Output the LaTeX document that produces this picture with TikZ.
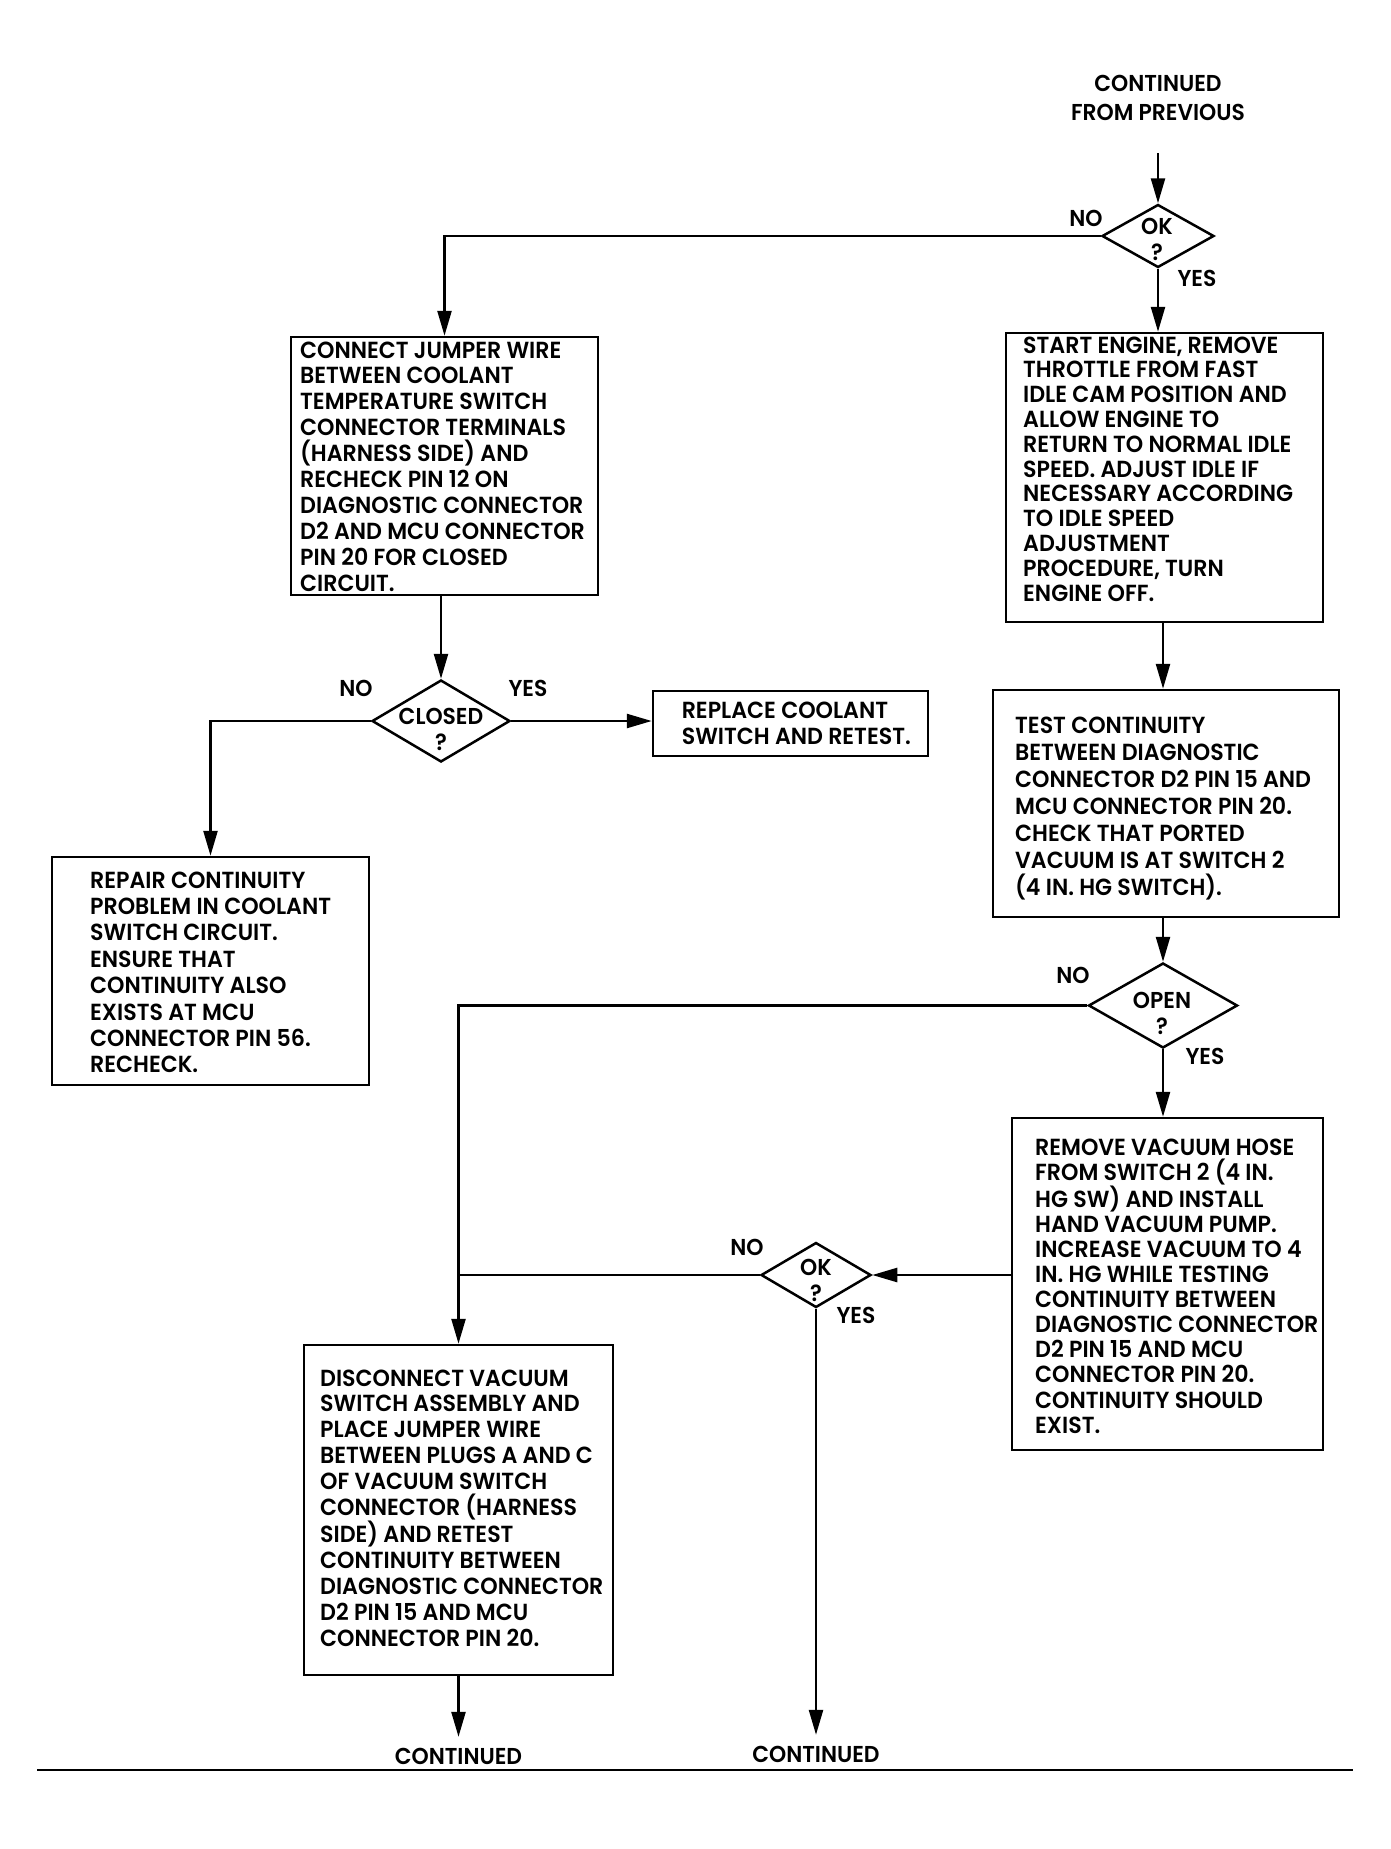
\documentclass[tikz,border=0pt]{standalone}
\usepackage{fontspec}
\setmainfont{Poppins}[UprightFont={* SemiBold},FakeStretch=0.95]
\usetikzlibrary{arrows.meta,shapes.geometric}
\newcommand\boxlines[1]{\parbox[t]{600pt}{\raggedright #1}}
\begin{document}
\begin{tikzpicture}[x=1pt,y=-1pt,
  line/.style={line width=2.5pt},
  arr/.style={line width=2.5pt,-{Triangle[length=25pt,width=14pt]}},
  box/.style={draw,line width=2.5pt,rectangle,inner sep=0pt},
  dia/.style={draw,line width=2.5pt,diamond,inner sep=0pt},
  btxt/.style={anchor=base west,inner sep=0pt,font=\fontsize{23.3pt}{#1}\selectfont},
  lbl/.style={inner sep=0pt,text height=16pt,text depth=0pt,font=\fontsize{23pt}{26pt}\selectfont},
  dtxt/.style={inner sep=0pt,align=center,font=\fontsize{23pt}{26pt}\selectfont}]
\useasboundingbox[fill=white] (0,0) rectangle (1391,1849);

% boxes
\node[box,minimum width=307pt,minimum height=258pt] (l1) at (444.5,466) {};
\node[box,minimum width=317pt,minimum height=289pt] (r1) at (1164.5,477.5) {};
\node[box,minimum width=275pt,minimum height=65pt] (rep) at (790.5,723.5) {};
\node[box,minimum width=317pt,minimum height=228pt] (rpr) at (210.5,971) {};
\node[box,minimum width=346pt,minimum height=227pt] (r2) at (1166,803.5) {};
\node[box,minimum width=311pt,minimum height=332pt] (r3) at (1167.5,1284) {};
\node[box,minimum width=309pt,minimum height=330pt] (d) at (458.5,1510) {};

% diamonds
\node[dia,minimum width=112pt,minimum height=63pt] (ok1) at (1158,236) {};
\node[dia,minimum width=138pt,minimum height=82pt] (cl) at (441,721) {};
\node[dia,minimum width=149pt,minimum height=85pt] (op) at (1163,1005.5) {};
\node[dia,minimum width=110pt,minimum height=65pt] (ok2) at (816,1275) {};

% box texts
\node[btxt=25.9pt] (tl1) at (300,358) {\boxlines{CONNECT JUMPER WIRE\\BETWEEN COOLANT\\TEMPERATURE SWITCH\\CONNECTOR TERMINALS\\(HARNESS SIDE) AND\\RECHECK PIN 12 ON\\DIAGNOSTIC CONNECTOR\\D2 AND MCU CONNECTOR\\PIN 20 FOR CLOSED\\CIRCUIT.}};
\node[btxt=24.8pt] (tr1) at (1023,353) {\boxlines{START ENGINE, REMOVE\\THROTTLE FROM FAST\\IDLE CAM POSITION AND\\ALLOW ENGINE TO\\RETURN TO NORMAL IDLE\\SPEED. ADJUST IDLE IF\\NECESSARY ACCORDING\\TO IDLE SPEED\\ADJUSTMENT\\PROCEDURE, TURN\\ENGINE OFF.}};
\node[btxt=26pt] (trep) at (681.6,718) {\boxlines{REPLACE COOLANT\\SWITCH AND RETEST.}};
\node[btxt=26.4pt] (trpr) at (90,888) {\boxlines{REPAIR CONTINUITY\\PROBLEM IN COOLANT\\SWITCH CIRCUIT.\\ENSURE THAT\\CONTINUITY ALSO\\EXISTS AT MCU\\CONNECTOR PIN 56.\\RECHECK.}};
\node[btxt=27pt] (tr2) at (1015,733) {\boxlines{TEST CONTINUITY\\BETWEEN DIAGNOSTIC\\CONNECTOR D2 PIN 15 AND\\MCU CONNECTOR PIN 20.\\CHECK THAT PORTED\\VACUUM IS AT SWITCH 2\\(4 IN. HG SWITCH).}};
\node[btxt=25.1pt] (tr3) at (1035,1155) {\boxlines{REMOVE VACUUM HOSE\\FROM SWITCH 2 (4 IN.\\HG SW) AND INSTALL\\HAND VACUUM PUMP.\\INCREASE VACUUM TO 4\\IN. HG WHILE TESTING\\CONTINUITY BETWEEN\\DIAGNOSTIC CONNECTOR\\D2 PIN 15 AND MCU\\CONNECTOR PIN 20.\\CONTINUITY SHOULD\\EXIST.}};
\node[btxt=25.9pt] (td) at (320,1386) {\boxlines{DISCONNECT VACUUM\\SWITCH ASSEMBLY AND\\PLACE JUMPER WIRE\\BETWEEN PLUGS A AND C\\OF VACUUM SWITCH\\CONNECTOR (HARNESS\\SIDE) AND RETEST\\CONTINUITY BETWEEN\\DIAGNOSTIC CONNECTOR\\D2 PIN 15 AND MCU\\CONNECTOR PIN 20.}};

% diamond texts
\node[dtxt] (tok1) at (1157,239.5) {OK\\?};
\node[dtxt] (tcl) at (441,729) {CLOSED\\?};
\node[dtxt] (top) at (1162,1013.5) {OPEN\\?};
\node[dtxt] (tok2) at (816,1280.5) {OK\\?};

% labels
\node[dtxt,font=\fontsize{23pt}{29pt}\selectfont] (start) at (1158,97.5) {CONTINUED\\FROM PREVIOUS};
\node[lbl] (no1) at (1086,218) {NO};
\node[lbl] (yes1) at (1197,278) {YES};
\node[lbl] (no2) at (356,688) {NO};
\node[lbl] (yes2) at (528,688) {YES};
\node[lbl] (no3) at (1073,975) {NO};
\node[lbl] (yes3) at (1205,1056) {YES};
\node[lbl] (no4) at (747,1247) {NO};
\node[lbl] (yes4) at (856,1315) {YES};
\node[lbl] (c1) at (458.5,1756) {CONTINUED};
\node[lbl] (c2) at (816,1754) {CONTINUED};

% connectors
\coordinate (s0) at (1158,153);
\draw[arr] (s0) -- (ok1.north);
\draw[arr] (ok1.west) -| (l1.north);
\draw[arr] (ok1.south) -- (ok1.south |- r1.north);
\draw[arr] (l1.south -| cl.north) -- (cl.north);
\draw[arr] (cl.east) -- (cl.east -| rep.west);
\draw[arr] (cl.west) -| (rpr.north);
\draw[arr] (op.north |- r1.south) -- (op.north |- r2.north);
\draw[arr] (op.north |- r2.south) -- (op.north);
\draw[arr] (op.south) -- (op.south |- r3.north);
\draw[arr] (op.west) -| (d.north);
\draw[line] (ok2.west) -- (ok2.west -| d.north);
\draw[arr] (r3.west |- ok2.east) -- (ok2.east);
\draw[arr,shorten >=11pt] (ok2.south) -- (c2.north);
\draw[arr,shorten >=11pt] (d.south) -- (c1.north);

% bottom rule
\draw[line width=2pt] (37,1770) -- (1353,1770);
\end{tikzpicture}
\end{document}
